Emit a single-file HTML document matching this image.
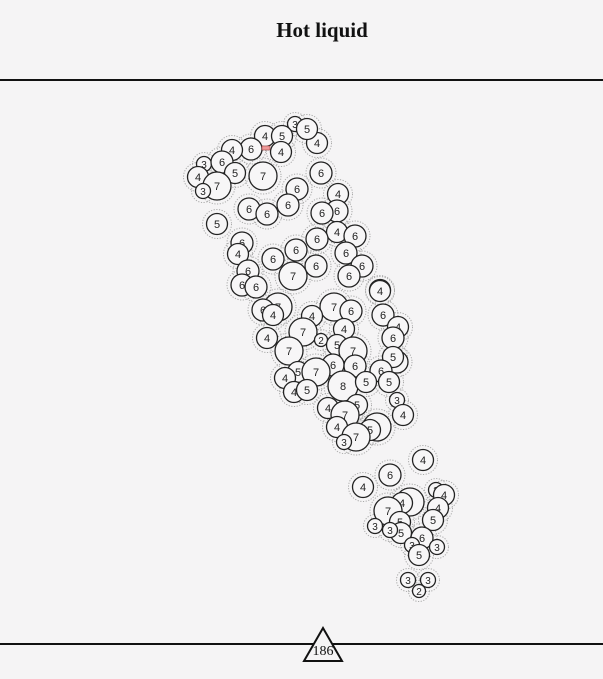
<!DOCTYPE html>
<html><head><meta charset="utf-8"><style>
body{margin:0;background:#f5f4f5;}
svg{display:block;font-family:"Liberation Sans",sans-serif;}
</style></head><body>
<svg width="603" height="679" viewBox="0 0 603 679">
<rect x="0" y="0" width="603" height="679" fill="#f5f4f5"/>
<text x="322" y="37" text-anchor="middle" font-family="Liberation Serif,serif" font-weight="bold" font-size="21" fill="#111">Hot liquid</text>
<line x1="0" y1="80" x2="603" y2="80" stroke="#111" stroke-width="2"/>
<line x1="0" y1="644" x2="603" y2="644" stroke="#111" stroke-width="2"/>
<g id="bubbles"></g>
<rect x="262" y="146" width="8" height="4" fill="#e99" stroke="#933" stroke-width="0.5"/>
<polygon points="323,628 304,661 342,661" fill="#f5f4f5" stroke="#111" stroke-width="2"/>
<text x="323" y="655" text-anchor="middle" font-family="Liberation Serif,serif" font-size="14" fill="#111">186</text>
</svg>
<script>
const xs=[317,295,307,265,282,281,251,232,204,222,235,198,217,203,263,321,297,288,249,267,217,338,337,322,337,355,317,296,242,238,273,346,362,248,293,316,349,380,242,256,278,263,273,380,334,351,312,344,383,303,321,398,393,267,337,353,289,333,355,397,393,381,298,316,285,343,366,389,294,307,397,328,357,345,403,337,377,370,356,344,423,390,363,436,444,410,402,388,438,375,433,400,401,390,422,437,412,419,408,428,419];
const ys=[143,124,129,136,136,152,149,150,164,162,173,177,186,191,176,173,189,205,209,214,224,194,211,213,232,236,239,250,243,254,259,253,266,271,276,266,276,290,285,287,307,310,315,291,307,311,316,329,315,332,340,327,338,338,345,351,351,365,366,362,357,371,372,372,378,386,382,382,392,390,400,408,405,415,415,427,427,430,437,442,460,475,487,490,495,502,503,511,508,526,520,522,533,530,538,547,545,555,580,580,591];
const vals=[4,3,5,4,5,4,6,4,3,6,5,4,7,3,7,6,6,6,6,6,5,4,6,6,4,6,6,6,6,4,6,6,6,6,7,6,6,4,6,6,7,6,4,4,7,6,4,4,6,7,2,4,6,4,5,7,7,6,6,6,5,6,5,7,4,8,5,5,4,5,3,4,5,7,4,4,7,5,7,3,4,6,4,3,4,7,4,7,4,3,5,5,5,3,6,3,3,5,3,3,2];
const radiusFor={2:6.5,3:7.5,4:10.5,5:10.5,6:11,7:14,8:15};
const g=document.getElementById('bubbles');
const NS='http://www.w3.org/2000/svg';
for(let i=0;i<vals.length;i++){
  const r=radiusFor[vals[i]]||10;
  const halo=document.createElementNS(NS,'circle');
  halo.setAttribute('cx',xs[i]);halo.setAttribute('cy',ys[i]);halo.setAttribute('r',r+4);
  halo.setAttribute('fill','none');halo.setAttribute('stroke','#aaa');halo.setAttribute('stroke-width','1');halo.setAttribute('stroke-dasharray','1.2,1.5');
  
  
  g.appendChild(halo);
}
for(let i=0;i<vals.length;i++){
  const r=radiusFor[vals[i]]||10;
  const c=document.createElementNS(NS,'circle');
  c.setAttribute('cx',xs[i]);c.setAttribute('cy',ys[i]);c.setAttribute('r',r);
  c.setAttribute('fill','#f7f6f7');c.setAttribute('stroke','#222');c.setAttribute('stroke-width','1.3');
  
  
  g.appendChild(c);
  const t=document.createElementNS(NS,'text');
  t.setAttribute('x',xs[i]);t.setAttribute('y',ys[i]+4);t.setAttribute('text-anchor','middle');
  t.setAttribute('font-size',r<8?'10':'11');t.setAttribute('fill','#222');
  t.textContent=vals[i];
  
  
  g.appendChild(t);
}
</script>
</body></html>
